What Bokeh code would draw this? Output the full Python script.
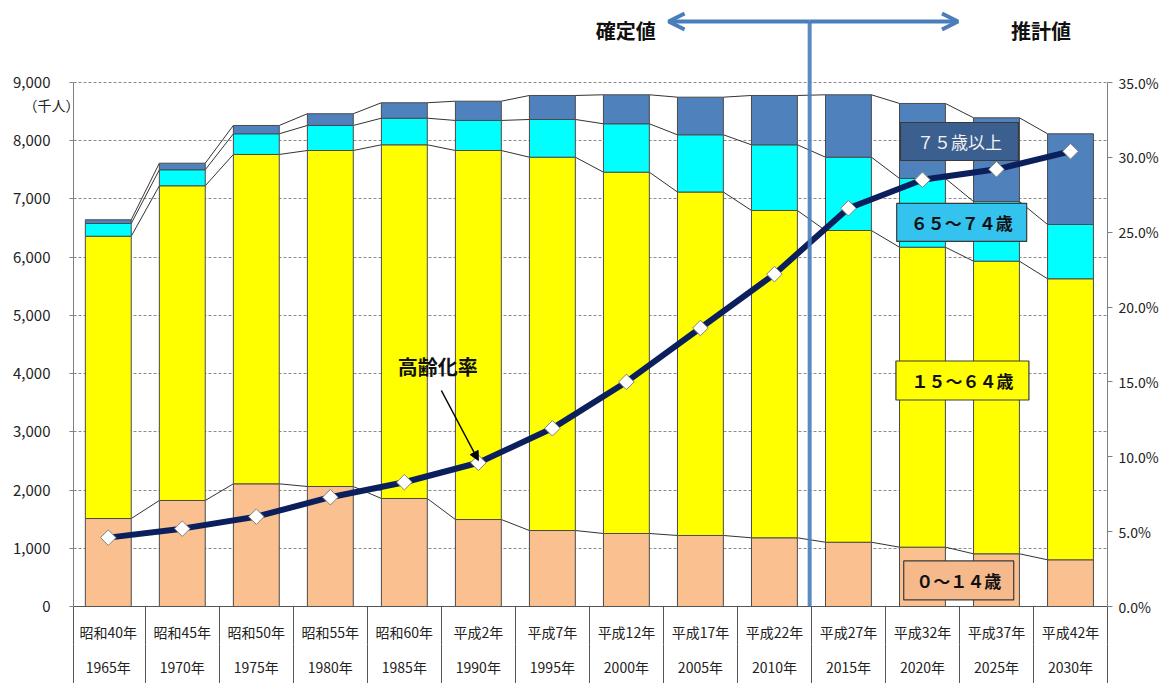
import numpy as np
from bokeh.plotting import figure
from bokeh.models import (Range1d, LinearAxis, FixedTicker, Arrow, OpenHead,
                          NormalHead, ColumnDataSource, Grid, NumeralTickFormatter,
                          PrintfTickFormatter)
from bokeh.core.properties import value
from bokeh.embed import file_html
from bokeh.resources import INLINE

# ---------------- data ----------------
era_labels = ["昭和40年", "昭和45年", "昭和50年", "昭和55年", "昭和60年", "平成2年", "平成7年",
              "平成12年", "平成17年", "平成22年", "平成27年", "平成32年", "平成37年", "平成42年"]
year_labels = ["1965年", "1970年", "1975年", "1980年", "1985年", "1990年", "1995年",
               "2000年", "2005年", "2010年", "2015年", "2020年", "2025年", "2030年"]
age_0_14 = [1511, 1821, 2107, 2061, 1855, 1494, 1305, 1254, 1220, 1180, 1104, 1019, 905, 802]
age_15_64 = [4849, 5405, 5657, 5771, 6075, 6338, 6412, 6206, 5899, 5622, 5354, 5152, 5026, 4827]
age_65_74 = [218, 275, 355, 430, 457, 516, 648, 831, 983, 1128, 1259, 1181, 1025, 932]
age_75_plus = [64, 113, 143, 201, 265, 331, 412, 498, 646, 847, 1072, 1288, 1438, 1558]
aging_rate = [4.6, 5.2, 6.0, 7.3, 8.3, 9.6, 11.9, 15.0, 18.6, 22.2, 26.6, 28.5, 29.2, 30.4]
left_ticks = [0, 1000, 2000, 3000, 4000, 5000, 6000, 7000, 8000, 9000]
right_ticks = [0, 5, 10, 15, 20, 25, 30, 35]
group_names = ["０～１４歳", "１５～６４歳", "６５～７４歳", "７５歳以上"]
unit_label = "（千人）"

# ---------------- style / layout ----------------
FONT = "Noto Sans CJK JP"
C_0_14, C_15_64, C_65_74, C_75 = "#FAC090", "#FFFF00", "#00FFFF", "#4F81BD"
BLUE = "#4A7EBB"
NAVY = "#0B1F5C"
W, H = 1167, 683
TOP, BOTTOM, LEFT, RIGHT = 5, 77, 73, 60
FRAME_H = H - TOP - BOTTOM
AXIS_PX = 524.0            # pixels spanned by 0..9000
Y_TOP = 9000 * FRAME_H / AXIS_PX
P_TOP = 35 * FRAME_H / AXIS_PX
X0, X1 = -0.47, 13.5
BAR_W = 0.62

n = len(era_labels)
xs = list(range(n))

p = figure(width=W, height=H, x_range=Range1d(X0, X1), y_range=Range1d(0, Y_TOP),
           output_backend="svg", toolbar_location=None,
           x_axis_location=None, y_axis_location=None,
           min_border_left=LEFT, min_border_right=RIGHT,
           min_border_top=TOP, min_border_bottom=BOTTOM)
p.outline_line_color = None
p.background_fill_color = "white"
p.border_fill_color = "white"
for g in p.grid:
    g.visible = False
p.extra_y_ranges = {"pct": Range1d(0, P_TOP)}

p.add_layout(Grid(dimension=1, ticker=FixedTicker(ticks=left_ticks[1:]),
                  grid_line_color="#8C8C8C", grid_line_dash="3 2", grid_line_width=1))

# axes
yl = LinearAxis(ticker=FixedTicker(ticks=left_ticks), bounds=(0, 9000),
                formatter=NumeralTickFormatter(format="0,0"))
yl.major_tick_out = 4
yl.major_tick_in = 0
yl.minor_tick_line_color = None
yl.major_label_standoff = 19
yl.axis_line_color = "#808080"
yl.major_tick_line_color = "#808080"
yl.major_label_text_font = FONT
yl.major_label_text_font_size = "15px"
yl.major_label_text_color = "#222222"
p.add_layout(yl, "left")

# unit label drawn as an extra (invisible) left axis with a single labelled tick
UNIT_Y = 8605
yu = LinearAxis(ticker=FixedTicker(ticks=[UNIT_Y]), major_label_overrides={UNIT_Y: unit_label})
yu.axis_line_color = None
yu.major_tick_line_color = None
yu.minor_tick_line_color = None
yu.major_tick_out = 0
yu.major_tick_in = 0
yu.major_label_standoff = -69
yu.major_label_text_font = FONT
yu.major_label_text_font_size = "14px"
yu.major_label_text_color = "#222222"
p.add_layout(yu, "left")

yr = LinearAxis(y_range_name="pct", ticker=FixedTicker(ticks=right_ticks), bounds=(0, 35),
                formatter=PrintfTickFormatter(format="%.1f%%"))
yr.major_tick_out = 5
yr.major_tick_in = 0
yr.minor_tick_line_color = None
yr.major_label_standoff = 6
yr.axis_line_color = "#808080"
yr.major_tick_line_color = "#808080"
yr.major_label_text_font = FONT
yr.major_label_text_font_size = "14px"
yr.major_label_text_color = "#222222"
p.add_layout(yr, "right")

bounds = [X0] + [i + 0.5 for i in range(n)]
xb1 = LinearAxis(ticker=FixedTicker(ticks=xs, minor_ticks=bounds),
                 major_label_overrides={i: era_labels[i] for i in xs})
xb1.major_tick_out = 0
xb1.major_tick_in = 0
xb1.major_tick_line_color = None
xb1.minor_tick_out = 38
xb1.minor_tick_in = 0
xb1.minor_tick_line_color = "#555555"
xb1.axis_line_color = "#555555"
xb1.major_label_standoff = -23
xb1.major_label_text_font = FONT
xb1.major_label_text_font_size = "14px"
xb1.major_label_text_color = "#222222"
p.add_layout(xb1, "below")

xb2 = LinearAxis(ticker=FixedTicker(ticks=xs, minor_ticks=bounds),
                 major_label_overrides={i: year_labels[i] for i in xs})
xb2.major_tick_out = 0
xb2.major_tick_in = 0
xb2.major_tick_line_color = None
xb2.minor_tick_out = 42
xb2.minor_tick_in = 0
xb2.minor_tick_line_color = "#555555"
xb2.axis_line_color = None
xb2.major_label_standoff = -30
xb2.major_label_text_font = FONT
xb2.major_label_text_font_size = "14px"
xb2.major_label_text_color = "#222222"
p.add_layout(xb2, "below")

# connector lines between stacked segments
levels = np.cumsum(np.array([age_0_14, age_15_64, age_65_74, age_75_plus]), axis=0)
cx0, cy0, cx1, cy1 = [], [], [], []
for lev in levels:
    for i in range(n - 1):
        cx0.append(i + BAR_W / 2); cy0.append(lev[i])
        cx1.append(i + 1 - BAR_W / 2); cy1.append(lev[i + 1])
p.segment(cx0, cy0, cx1, cy1, line_color="#333333", line_width=1)

# stacked bars
src = ColumnDataSource(dict(x=xs, a=age_0_14, b=age_15_64, c=age_65_74, d=age_75_plus))
p.vbar_stack(["a", "b", "c", "d"], x="x", width=BAR_W, source=src,
             fill_color=[C_0_14, C_15_64, C_65_74, C_75],
             line_color="#4A4A4A", line_width=1)

# boundary between confirmed / projected values
JX = 9.476
ARROW_Y = 10048
p.add_layout(Arrow(end=None, x_start=JX, y_start=0, x_end=JX, y_end=ARROW_Y,
                   line_color=BLUE, line_width=4, line_alpha=0.9))
p.add_layout(Arrow(end=OpenHead(size=16, line_width=4, line_color=BLUE),
                   x_start=JX, y_start=ARROW_Y, x_end=7.57, y_end=ARROW_Y,
                   line_color=BLUE, line_width=4))
p.add_layout(Arrow(end=OpenHead(size=16, line_width=4, line_color=BLUE),
                   x_start=JX, y_start=ARROW_Y, x_end=11.48, y_end=ARROW_Y,
                   line_color=BLUE, line_width=4))
p.text(x=[6.99, 12.6], y=[9893, 9893], text=["確定値", "推計値"],
       text_font=value(FONT), text_font_style="bold", text_font_size="20px",
       text_align="center", text_baseline="middle", text_color="#111111")

# aging rate line
p.line(xs, aging_rate, y_range_name="pct", line_color=NAVY, line_width=6)
p.scatter(xs, aging_rate, y_range_name="pct", marker="square", angle=np.pi / 4,
          size=11, fill_color="white", line_color="#7F7F7F", line_width=1)

# series labels (boxes)
lx = [11.49, 11.54, 11.53, 11.50]
ly = [447, 3882, 6596, 7987]
lw = [110, 133, 130, 118]
lfill = ["#F6B98C", "#FFFF00", "#33C3EE", "#3B5F8E"]
ltc = ["#111111", "#111111", "#111111", "#F2F2F2"]
lstyle = ["bold", "bold", "bold", "normal"]
p.rect(x=lx, y=ly, width=lw, height=[39, 39, 38, 38], width_units="screen",
       height_units="screen", fill_color=lfill, line_color="#3A3A3A", line_width=1.2)
for i in range(4):
    p.text(x=[lx[i]], y=[ly[i]], text=[group_names[i]], text_font=value(FONT),
           text_font_size="17px", text_font_style=lstyle[i], text_color=ltc[i],
           text_align="center", text_baseline="middle")

# aging-rate callout
p.text(x=[4.45], y=[4122], text=["高齢化率"], text_font=value(FONT), text_font_style="bold",
       text_font_size="20px", text_align="center", text_baseline="middle", text_color="#111111")
p.add_layout(Arrow(end=NormalHead(size=9, fill_color="black", line_color="black"),
                   x_start=4.50, y_start=3710, x_end=5.00, y_end=2508,
                   line_color="black", line_width=1.5))

open("out.html", "w").write(file_html(p, INLINE))
